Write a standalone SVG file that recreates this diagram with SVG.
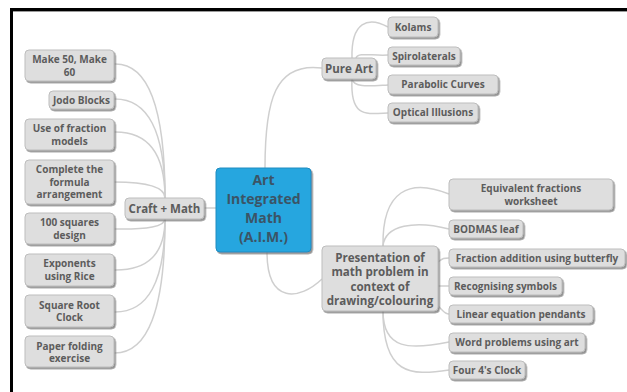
<svg xmlns="http://www.w3.org/2000/svg" width="627" height="392" viewBox="0 0 627 392">
<style>
.n{fill:#dedede;stroke:#bdbdbd;stroke-width:1;filter:url(#sh)}
.c{fill:#27a6df;stroke:#1f8cc0;stroke-width:1;filter:url(#sh)}
.t{font-family:"Open Sans","DejaVu Sans",sans-serif;font-weight:bold;font-size:10px;fill:#5c5c5c;text-anchor:middle}
.tm{font-size:11.5px}
.tp{font-size:11.6px}
.tc{font-family:"Open Sans","DejaVu Sans",sans-serif;font-weight:bold;font-size:14px;fill:#3b5466;text-anchor:middle}
#connectors path{fill:none;stroke:#cfcfcf;stroke-width:1.5}
</style>
<defs>
<filter id="sh" x="-10%" y="-20%" width="130%" height="150%">
<feDropShadow dx="1.5" dy="1.8" stdDeviation="0.7" flood-color="#6f6f6f" flood-opacity="0.75"/>
</filter>
</defs>
<rect x="0" y="0" width="627" height="392" fill="#ffffff"/>
<line x1="10" y1="9.5" x2="627" y2="9.5" stroke="#000" stroke-width="3"/>
<line x1="13" y1="11.5" x2="627" y2="11.5" stroke="#9a9a9a" stroke-width="1"/>
<line x1="11.5" y1="8" x2="11.5" y2="392" stroke="#000" stroke-width="3"/>

<g id="connectors">
<path d="M204,208 L216,208"/>
<path d="M165,198 Q165,62 114,64"/>
<path d="M165,198 Q165,98 114,99"/>
<path d="M165,198 Q165,131 114,132"/>
<path d="M165,198 Q165,182 114,182"/>
<path d="M165,219 Q165,230 114,229"/>
<path d="M165,219 Q165,271 114,270"/>
<path d="M165,219 Q165,313 114,312"/>
<path d="M165,219 Q165,354 114,353"/>
<path d="M265,168 C265,100 275,62 322,68"/>
<path d="M352,58 C351,22 368,16 388,27"/>
<path d="M356,58 C358,52 372,56 388,55"/>
<path d="M352,79 C354,88 370,86 388,85"/>
<path d="M352,79 C350,118 366,114 388,113"/>
<path d="M267,252 C267,305 300,300 322,279"/>
<path d="M383,246 C382,190 410,178 449,194"/>
<path d="M383,246 C385,225 415,220 449,229"/>
<path d="M438,262 C443,258 444,258 449,258"/>
<path d="M438,286 L449,286"/>
<path d="M438,306 C443,310 444,314 449,314"/>
<path d="M383,311 C383,350 410,350 449,342"/>
<path d="M383,311 C383,375 410,376 449,370"/>
</g>

<g id="central">
<rect class="c" x="216" y="168" width="95" height="84" rx="4"/>
<text class="tc" x="263.5" y="185">Art</text>
<text class="tc" x="263.5" y="204">Integrated</text>
<text class="tc" x="263.5" y="223">Math</text>
<text class="tc" x="263.5" y="242">(A.I.M.)</text>
</g>

<g id="craft">
<rect class="n" x="125" y="198" width="79" height="21" rx="4"/>
<text class="t tm" x="164.5" y="212.5">Craft + Math</text>
</g>
<g id="make50">
<rect class="n" x="25" y="50" width="89" height="31" rx="4"/>
<text class="t" x="69.5" y="62.5">Make 50, Make</text>
<text class="t" x="69.5" y="75.5">60</text>
</g>
<g id="jodo">
<rect class="n" x="49" y="91" width="65" height="18" rx="4"/>
<text class="t" x="81.5" y="103.5">Jodo Blocks</text>
</g>
<g id="fraction-models">
<rect class="n" x="25" y="119" width="89" height="31" rx="4"/>
<text class="t" x="69.5" y="131.5">Use of fraction</text>
<text class="t" x="69.5" y="144.5">models</text>
</g>
<g id="formula">
<rect class="n" x="25" y="160" width="89" height="44" rx="4"/>
<text class="t" x="69.5" y="172.5">Complete the</text>
<text class="t" x="69.5" y="185.5">formula</text>
<text class="t" x="69.5" y="198">arrangement</text>
</g>
<g id="squares">
<rect class="n" x="25" y="213" width="89" height="31" rx="4"/>
<text class="t" x="69.5" y="225.5">100 squares</text>
<text class="t" x="69.5" y="238.5">design</text>
</g>
<g id="exponents">
<rect class="n" x="25" y="254" width="89" height="32" rx="4"/>
<text class="t" x="69.5" y="266.5">Exponents</text>
<text class="t" x="69.5" y="279.5">using Rice</text>
</g>
<g id="sqroot">
<rect class="n" x="25" y="295" width="89" height="32" rx="4"/>
<text class="t" x="69.5" y="308.5">Square Root</text>
<text class="t" x="69.5" y="321">Clock</text>
</g>
<g id="paper">
<rect class="n" x="25" y="336" width="89" height="31" rx="4"/>
<text class="t" x="69.5" y="349.5">Paper folding</text>
<text class="t" x="69.5" y="362">exercise</text>
</g>

<g id="pureart">
<rect class="n" x="322" y="58" width="54" height="21" rx="4"/>
<text class="t tm" x="349" y="72.5">Pure Art</text>
</g>
<g id="kolams">
<rect class="n" x="388" y="17" width="50" height="20" rx="4"/>
<text class="t" x="413" y="30.5">Kolams</text>
</g>
<g id="spirolaterals">
<rect class="n" x="388" y="47" width="72" height="18" rx="4"/>
<text class="t" x="424" y="59.5">Spirolaterals</text>
</g>
<g id="parabolic">
<rect class="n" x="388" y="75" width="110" height="19" rx="4"/>
<text class="t" x="443" y="88">Parabolic Curves</text>
</g>
<g id="optical">
<rect class="n" x="388" y="103" width="90" height="19" rx="4"/>
<text class="t" x="433" y="116">Optical Illusions</text>
</g>

<g id="presentation">
<rect class="n" x="322" y="246" width="116" height="65" rx="4"/>
<text class="t tp" x="380" y="261.5">Presentation of</text>
<text class="t tp" x="380" y="276">math problem in</text>
<text class="t tp" x="380" y="290.5">context of</text>
<text class="t tp" x="380" y="305">drawing/colouring</text>
</g>
<g id="equivalent">
<rect class="n" x="449" y="179" width="164" height="31" rx="4"/>
<text class="t" x="531" y="191.5">Equivalent fractions</text>
<text class="t" x="531" y="204.5">worksheet</text>
</g>
<g id="bodmas">
<rect class="n" x="449" y="220" width="74" height="18" rx="4"/>
<text class="t" x="486" y="232.5">BODMAS leaf</text>
</g>
<g id="butterfly">
<rect class="n" x="449" y="249" width="176" height="18" rx="4"/>
<text class="t" x="537" y="261.5">Fraction addition using butterfly</text>
</g>
<g id="symbols">
<rect class="n" x="449" y="277" width="113" height="18" rx="4"/>
<text class="t" x="505.5" y="289.5">Recognising symbols</text>
</g>
<g id="linear">
<rect class="n" x="449" y="305" width="144" height="18" rx="4"/>
<text class="t" x="521" y="317.5">Linear equation pendants</text>
</g>
<g id="word">
<rect class="n" x="449" y="333" width="136" height="19" rx="4"/>
<text class="t" x="517" y="346">Word problems using art</text>
</g>
<g id="four4">
<rect class="n" x="449" y="361" width="76" height="18" rx="4"/>
<text class="t" x="487" y="373.5">Four 4's Clock</text>
</g>
</svg>
